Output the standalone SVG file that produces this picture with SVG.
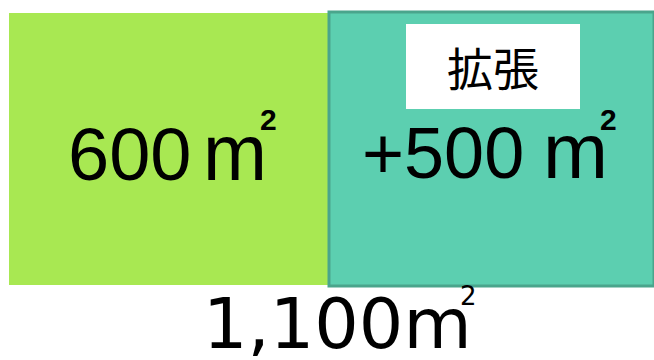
<svg xmlns="http://www.w3.org/2000/svg" width="654" height="360" viewBox="0 0 654 360">
<style>
.num{font-family:"Liberation Sans",Arial,sans-serif;fill:#000}
.tot{font-family:"DejaVu Sans",sans-serif;fill:#000}
.jp{font-family:"Noto Sans CJK JP",sans-serif;fill:#000}
</style>
<rect width="654" height="360" fill="#fff"/>
<g id="existing">
<rect x="9" y="13" width="320" height="272" fill="#a8e852"/>
<text class="num" x="68" y="180" font-size="74">600</text>
<text class="num" x="203" y="180" font-size="80" textLength="64" lengthAdjust="spacingAndGlyphs">m</text>
<text class="num" x="260" y="130" font-size="30" font-weight="bold">2</text>
</g>
<g id="extension">
<rect x="329" y="12" width="325" height="274" fill="#5ccfb0" stroke="#4aa58c" stroke-width="3"/>
<rect x="406" y="24" width="174" height="85" fill="#fff"/>
<text class="jp" x="493" y="86" font-size="46" text-anchor="middle">拡張</text>
<text class="num" x="362" y="178" font-size="72">+500</text>
<text class="num" x="543" y="178" font-size="78" textLength="65" lengthAdjust="spacingAndGlyphs">m</text>
<text class="num" x="600" y="130" font-size="30" font-weight="bold">2</text>
</g>
<g id="total">
<text class="tot" x="203" y="348" font-size="70">1,100m</text>
<text class="tot" x="460" y="305" font-size="26">2</text>
</g>
<g id="connectors"/>
</svg>
